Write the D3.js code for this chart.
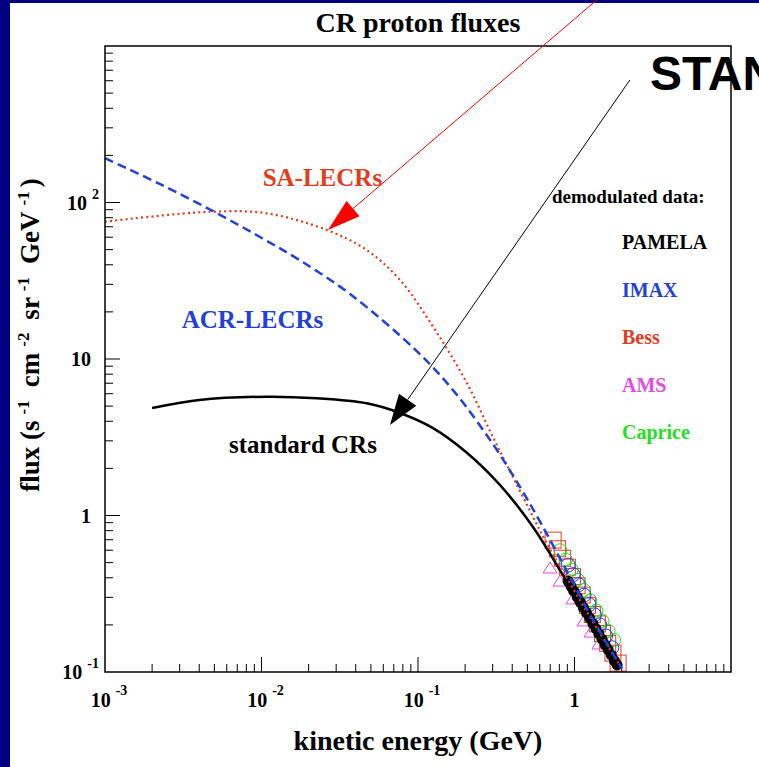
<!DOCTYPE html>
<html><head><meta charset="utf-8">
<script src="https://cdn.jsdelivr.net/npm/d3@7"></script>
<style>html,body{margin:0;padding:0;background:#fff;overflow:hidden}</style>
</head><body><svg id="c" width="759" height="767"></svg>
<script>
// ---------- data ----------
const xTickLabels = [["10","-3"],["10","-2"],["10","-1"],["1",""]];
const xTickValues = [0.001, 0.01, 0.1, 1];
const yTickLabels = [["10","-1"],["1",""],["10",""],["10","2"]];
const yTickValues = [0.1, 1, 10, 100];

// standard CRs (solid black)
const stdE    = [0.002, 0.004, 0.0108, 0.0225, 0.047, 0.0767, 0.1247, 0.2026, 0.334, 0.543, 0.882, 1.455, 2.0];
const stdFlux = [4.86, 5.47, 5.74, 5.61, 5.21, 4.52, 3.62, 2.546, 1.566, 0.844, 0.387, 0.172, 0.106];
// ACR-LECRs (blue dashed)
const acrE    = [0.001, 0.00225, 0.0049, 0.00978, 0.0176, 0.0368, 0.0985, 0.172, 0.301, 0.449, 0.611, 0.87, 1.29, 2.01];
const acrFlux = [192, 131, 88.1, 60.2, 42.7, 26.0, 11.2, 6.12, 2.86, 1.52, 0.89, 0.463, 0.222, 0.105];
// SA-LECRs (red dotted)
const saE     = [0.001, 0.00469, 0.0108, 0.0261, 0.047, 0.0767, 0.1247, 0.205, 0.301, 0.387, 0.52, 0.648, 0.87, 1.29, 2.01];
const saFlux  = [75.4, 87.3, 85.3, 66.7, 49.7, 32.0, 16.1, 7.03, 3.17, 1.92, 1.07, 0.697, 0.417, 0.215, 0.105];

// demodulated data
const pamelaE    = [0.91, 0.95, 0.99, 1.04, 1.09, 1.14, 1.19, 1.25, 1.31, 1.37, 1.43, 1.50, 1.57, 1.64, 1.72, 1.80, 1.87];
const pamelaFlux = [0.380, 0.353, 0.329, 0.302, 0.279, 0.258, 0.240, 0.221, 0.204, 0.189, 0.175, 0.162, 0.149, 0.139, 0.128, 0.118, 0.111];
const imaxE      = [0.91, 0.98, 1.06, 1.15, 1.24, 1.34, 1.45, 1.58, 1.73];
const imaxFlux   = [0.482, 0.419, 0.361, 0.310, 0.269, 0.232, 0.200, 0.170, 0.143];
const bessE      = [0.73, 0.78, 0.84, 0.90, 0.97, 1.04, 1.12, 1.21, 1.30, 1.40, 1.51, 1.63, 1.76, 1.90];
const bessFlux   = [0.696, 0.613, 0.533, 0.468, 0.407, 0.356, 0.310, 0.267, 0.233, 0.203, 0.176, 0.152, 0.132, 0.114];
const amsE       = [0.698, 0.808, 0.978, 1.15, 1.275, 1.434];
const amsFlux    = [0.462, 0.381, 0.293, 0.212, 0.180, 0.151];
const capriceE   = [0.81, 0.88, 0.96, 1.05, 1.15, 1.26, 1.38, 1.51, 1.65, 1.79];
const capriceFlux= [0.600, 0.522, 0.451, 0.389, 0.334, 0.287, 0.247, 0.212, 0.183, 0.160];

const legendNames = ["PAMELA","IMAX","Bess","AMS","Caprice"];

// ---------- drawing ----------
const W = 759, H = 767;
const C = {blue:"#2140dc", red:"#e63c1e", magenta:"#e84ae8", green:"#22e022", navy:"#000080", arrowRed:"#ff0000"};
const serif = "'Liberation Serif','Times New Roman',serif";
const svg = d3.select("#c");
svg.append("rect").attr("width", W).attr("height", H).attr("fill", C.navy);
svg.append("rect").attr("x", 10).attr("y", 3).attr("width", W - 10).attr("height", H - 3).attr("fill", "#fff");

const m = {l:105, r:731, t:46, b:672};
const x = d3.scaleLog().domain([1e-3, 10]).range([m.l, m.r]);
const y = d3.scaleLog().domain([0.1, 1000]).range([m.b, m.t]);
const isMajor = v => Math.abs(Math.log10(v) - Math.round(Math.log10(v))) < 1e-9;

// ticks
const gt = svg.append("g").attr("stroke", "#000").attr("stroke-width", 1);
x.ticks().forEach(v => {
  if (v <= 1e-3 || v >= 10) return;
  const len = isMajor(v) ? 15 : 8;
  gt.append("line").attr("x1", x(v)).attr("x2", x(v)).attr("y1", m.b).attr("y2", m.b - len);
});
y.ticks().forEach(v => {
  if (v <= 0.1 || v >= 1000) return;
  const len = isMajor(v) ? 15 : 8;
  gt.append("line").attr("x1", m.l).attr("x2", m.l + len).attr("y1", y(v)).attr("y2", y(v));
});

// tick labels
xTickValues.forEach((v, i) => {
  const [b, s] = xTickLabels[i];
  const t = svg.append("text").attr("font-family", serif).attr("font-weight", "bold")
    .attr("font-size", 20).attr("text-anchor", "middle").attr("y", 707)
    .attr("x", x(v) + (s ? 4 : 0));
  t.append("tspan").text(b);
  if (s) t.append("tspan").attr("dx", 5).attr("dy", -12).attr("font-size", 14).text(s);
});
yTickValues.forEach((v, i) => {
  const [b, s] = yTickLabels[i];
  const t = svg.append("text").attr("font-family", serif).attr("font-weight", "bold")
    .attr("font-size", 20).attr("text-anchor", "end").attr("y", y(v) + 7)
    .attr("x", s ? 99 : 91);
  t.append("tspan").text(b);
  if (s) t.append("tspan").attr("dx", 5).attr("dy", -11).attr("font-size", 14).text(s);
});

// markers
const zip = (a, b) => a.map((e, i) => [e, b[i]]);
const gm = svg.append("g");
zip(bessE, bessFlux).forEach(([e, f]) => gm.append("rect")
  .attr("x", x(e) - 8).attr("y", y(f) - 8).attr("width", 16).attr("height", 16)
  .attr("fill", "none").attr("stroke", C.red).attr("stroke-width", 1));
zip(amsE, amsFlux).forEach(([e, f]) => gm.append("path")
  .attr("d", `M${x(e)},${y(f) - 6}L${x(e) + 7},${y(f) + 5}L${x(e) - 7},${y(f) + 5}Z`)
  .attr("fill", "none").attr("stroke", C.magenta).attr("stroke-width", 1));
zip(capriceE, capriceFlux).forEach(([e, f]) => gm.append("circle")
  .attr("cx", x(e)).attr("cy", y(f)).attr("r", 6.5)
  .attr("fill", "none").attr("stroke", C.green).attr("stroke-width", 1));
zip(imaxE, imaxFlux).forEach(([e, f]) => gm.append("circle")
  .attr("cx", x(e)).attr("cy", y(f)).attr("r", 7)
  .attr("fill", "none").attr("stroke", C.blue).attr("stroke-width", 1));
zip(pamelaE, pamelaFlux).forEach(([e, f]) => gm.append("circle")
  .attr("cx", x(e)).attr("cy", y(f)).attr("r", 5.5).attr("fill", "#000"));

// curves
const line = d3.line().x(d => x(d[0])).y(d => y(d[1])).curve(d3.curveCatmullRom.alpha(0.5));
svg.append("path").attr("d", line(zip(stdE, stdFlux))).attr("fill", "none")
  .attr("stroke", "#000").attr("stroke-width", 2.5);
svg.append("path").attr("d", line(zip(saE, saFlux))).attr("fill", "none")
  .attr("stroke", C.red).attr("stroke-width", 2.2).attr("stroke-dasharray", "2,3.2");
svg.append("path").attr("d", line(zip(acrE, acrFlux))).attr("fill", "none")
  .attr("stroke", C.blue).attr("stroke-width", 2.5).attr("stroke-dasharray", "9,5");

// frame
svg.append("rect").attr("x", m.l).attr("y", m.t).attr("width", m.r - m.l).attr("height", m.b - m.t)
  .attr("fill", "none").attr("stroke", "#000").attr("stroke-width", 1.5);

// titles
svg.append("text").attr("x", (m.l + m.r) / 2).attr("y", 32).attr("text-anchor", "middle")
  .attr("font-family", serif).attr("font-weight", "bold").attr("font-size", 28).text("CR proton fluxes");
svg.append("text").attr("x", (m.l + m.r) / 2).attr("y", 750).attr("text-anchor", "middle")
  .attr("font-family", serif).attr("font-weight", "bold").attr("font-size", 28).text("kinetic energy (GeV)");
const yt = svg.append("text").attr("transform", "translate(39,335) rotate(-90)").attr("text-anchor", "middle")
  .attr("font-family", serif).attr("font-weight", "bold").attr("font-size", 27);
const yParts = [["flux (s","-1"],["cm","-2"],["sr","-1"],["GeV","-1"],[")",""]];
yParts.forEach(([b, s], i) => {
  const bt = yt.append("tspan").text(b);
  if (i > 0) bt.attr("dy", 10).attr("dx", i === yParts.length - 1 ? 4 : 13);
  if (s) yt.append("tspan").attr("dy", -10).attr("dx", 6).attr("font-size", 17).text(s);
});

// curve labels (anchored in data space)
const lab = (e, f, txt, col, size) => svg.append("text").attr("x", x(e)).attr("y", y(f))
  .attr("text-anchor", "middle").attr("font-family", serif).attr("font-weight", "bold")
  .attr("font-size", size).attr("fill", col).text(txt);
lab(0.0245, 127, "SA-LECRs", C.red, 25);
lab(0.00876, 15.8, "ACR-LECRs", C.blue, 25);
lab(0.0184, 2.51, "standard CRs", "#000", 25);

// legend
svg.append("text").attr("x", 552).attr("y", 203).attr("font-family", serif).attr("font-weight", "bold")
  .attr("font-size", 19).text("demodulated data:");
const legCols = ["#000", C.blue, C.red, C.magenta, C.green];
legendNames.forEach((n, i) => svg.append("text").attr("x", 622).attr("y", 249 + i * 47.5)
  .attr("font-family", serif).attr("font-weight", "bold").attr("font-size", 20)
  .attr("fill", legCols[i]).text(n));

// arrows (endpoints in data space)
function arrow(e0, f0, e1, f1, col, L, hw) {
  const x0 = x(e0), y0 = y(f0), x1 = x(e1), y1 = y(f1);
  const dx = x1 - x0, dy = y1 - y0, d = Math.hypot(dx, dy), ux = dx / d, uy = dy / d;
  const bx = x1 - ux * L, by = y1 - uy * L;
  svg.append("line").attr("x1", x0).attr("y1", y0).attr("x2", bx).attr("y2", by)
    .attr("stroke", col).attr("stroke-width", 1);
  svg.append("path").attr("d", `M${x1},${y1}L${bx - uy * hw},${by + ux * hw}L${bx + uy * hw},${by - ux * hw}Z`)
    .attr("fill", col);
}
arrow(1.386, 1968, 0.0266, 66.7, C.arrowRed, 33, 10);
arrow(2.26, 607, 0.0662, 3.78, "#000", 31, 10.5);

// overlay headline (cut by the window edge, as in the original)
svg.append("text").attr("x", 650).attr("y", 90).attr("font-family", "'Liberation Sans',Arial,sans-serif")
  .attr("font-weight", "bold").attr("font-size", 48).text("STAN");
</script>
</body></html>
